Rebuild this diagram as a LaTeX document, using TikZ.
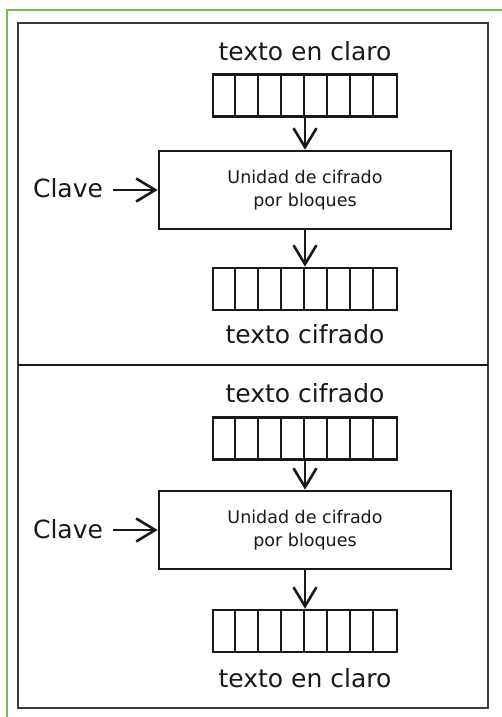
\documentclass[tikz,border=0pt]{standalone}
\usepackage{fontspec}
\setmainfont{DejaVu Sans}
\usetikzlibrary{arrows.meta,calc}
\definecolor{frameg}{RGB}{118,189,80}
\definecolor{ink}{RGB}{25,25,25}
\begin{document}
\begin{tikzpicture}[x=1pt,y=-1pt,
  lbl/.style={font=\fontsize{25}{30}\selectfont, text=ink, inner sep=0pt},
  blk/.style={draw=ink, line width=2.6pt, minimum width=184pt, minimum height=42pt, inner sep=0pt},
  unit/.style={draw=ink, line width=2.6pt, minimum width=292pt, minimum height=78pt, inner sep=0pt,
    align=center, font=\fontsize{17.5}{23}\selectfont, text=ink},
  arr/.style={draw=ink, line width=2.4pt, -{Straight Barb[length=19pt,width=23pt,line width=2.6pt]}},
  cell/.style={draw=ink, line width=2.4pt}]
\useasboundingbox (0,0) rectangle (502,717);
\fill[white] (0,0) rectangle (502,717);
% green outer frame
\draw[frameg, line width=1.4pt] (7,717) -- (7,10) -- (502,10);
% black frame
\draw[ink!85, line width=2.8pt] (18,23) rectangle (488,708);
\draw[ink, line width=2.6pt] (18,365) -- (488,365);
% ---------- panel 1 ----------
\node[lbl, anchor=base] (t1) at (305,60) {texto en claro};
\node[blk] (b1) at (305,95.5) {};
\foreach \i in {1,...,7}
  \draw[cell] ($(b1.north west)+(23*\i,0)$) -- ($(b1.south west)+(23*\i,0)$);
\node[unit] (u1) at (305,190) {Unidad de cifrado\\por bloques};
\node[lbl, anchor=base] (k1) at (68,197) {Clave};
\node[blk] (b2) at (305,289) {};
\foreach \i in {1,...,7}
  \draw[cell] ($(b2.north west)+(23*\i,0)$) -- ($(b2.south west)+(23*\i,0)$);
\node[lbl, anchor=base] (t2) at (305,343) {texto cifrado};
\draw[arr] (b1.south) -- (u1.north);
\draw[arr] (u1.south) -- (b2.north);
\draw[arr] ([xshift=10pt]k1.east |- u1.west) -- (u1.west);
% ---------- panel 2 ----------
\node[lbl, anchor=base] (t3) at (305,402) {texto cifrado};
\node[blk] (b3) at (305,438.5) {};
\foreach \i in {1,...,7}
  \draw[cell] ($(b3.north west)+(23*\i,0)$) -- ($(b3.south west)+(23*\i,0)$);
\node[unit] (u2) at (305,530) {Unidad de cifrado\\por bloques};
\node[lbl, anchor=base] (k2) at (68,538) {Clave};
\node[blk] (b4) at (305,631) {};
\foreach \i in {1,...,7}
  \draw[cell] ($(b4.north west)+(23*\i,0)$) -- ($(b4.south west)+(23*\i,0)$);
\node[lbl, anchor=base] (t4) at (305,687) {texto en claro};
\draw[arr] (b3.south) -- (u2.north);
\draw[arr] (u2.south) -- (b4.north);
\draw[arr] ([xshift=10pt]k2.east |- u2.west) -- (u2.west);
\end{tikzpicture}
\end{document}
